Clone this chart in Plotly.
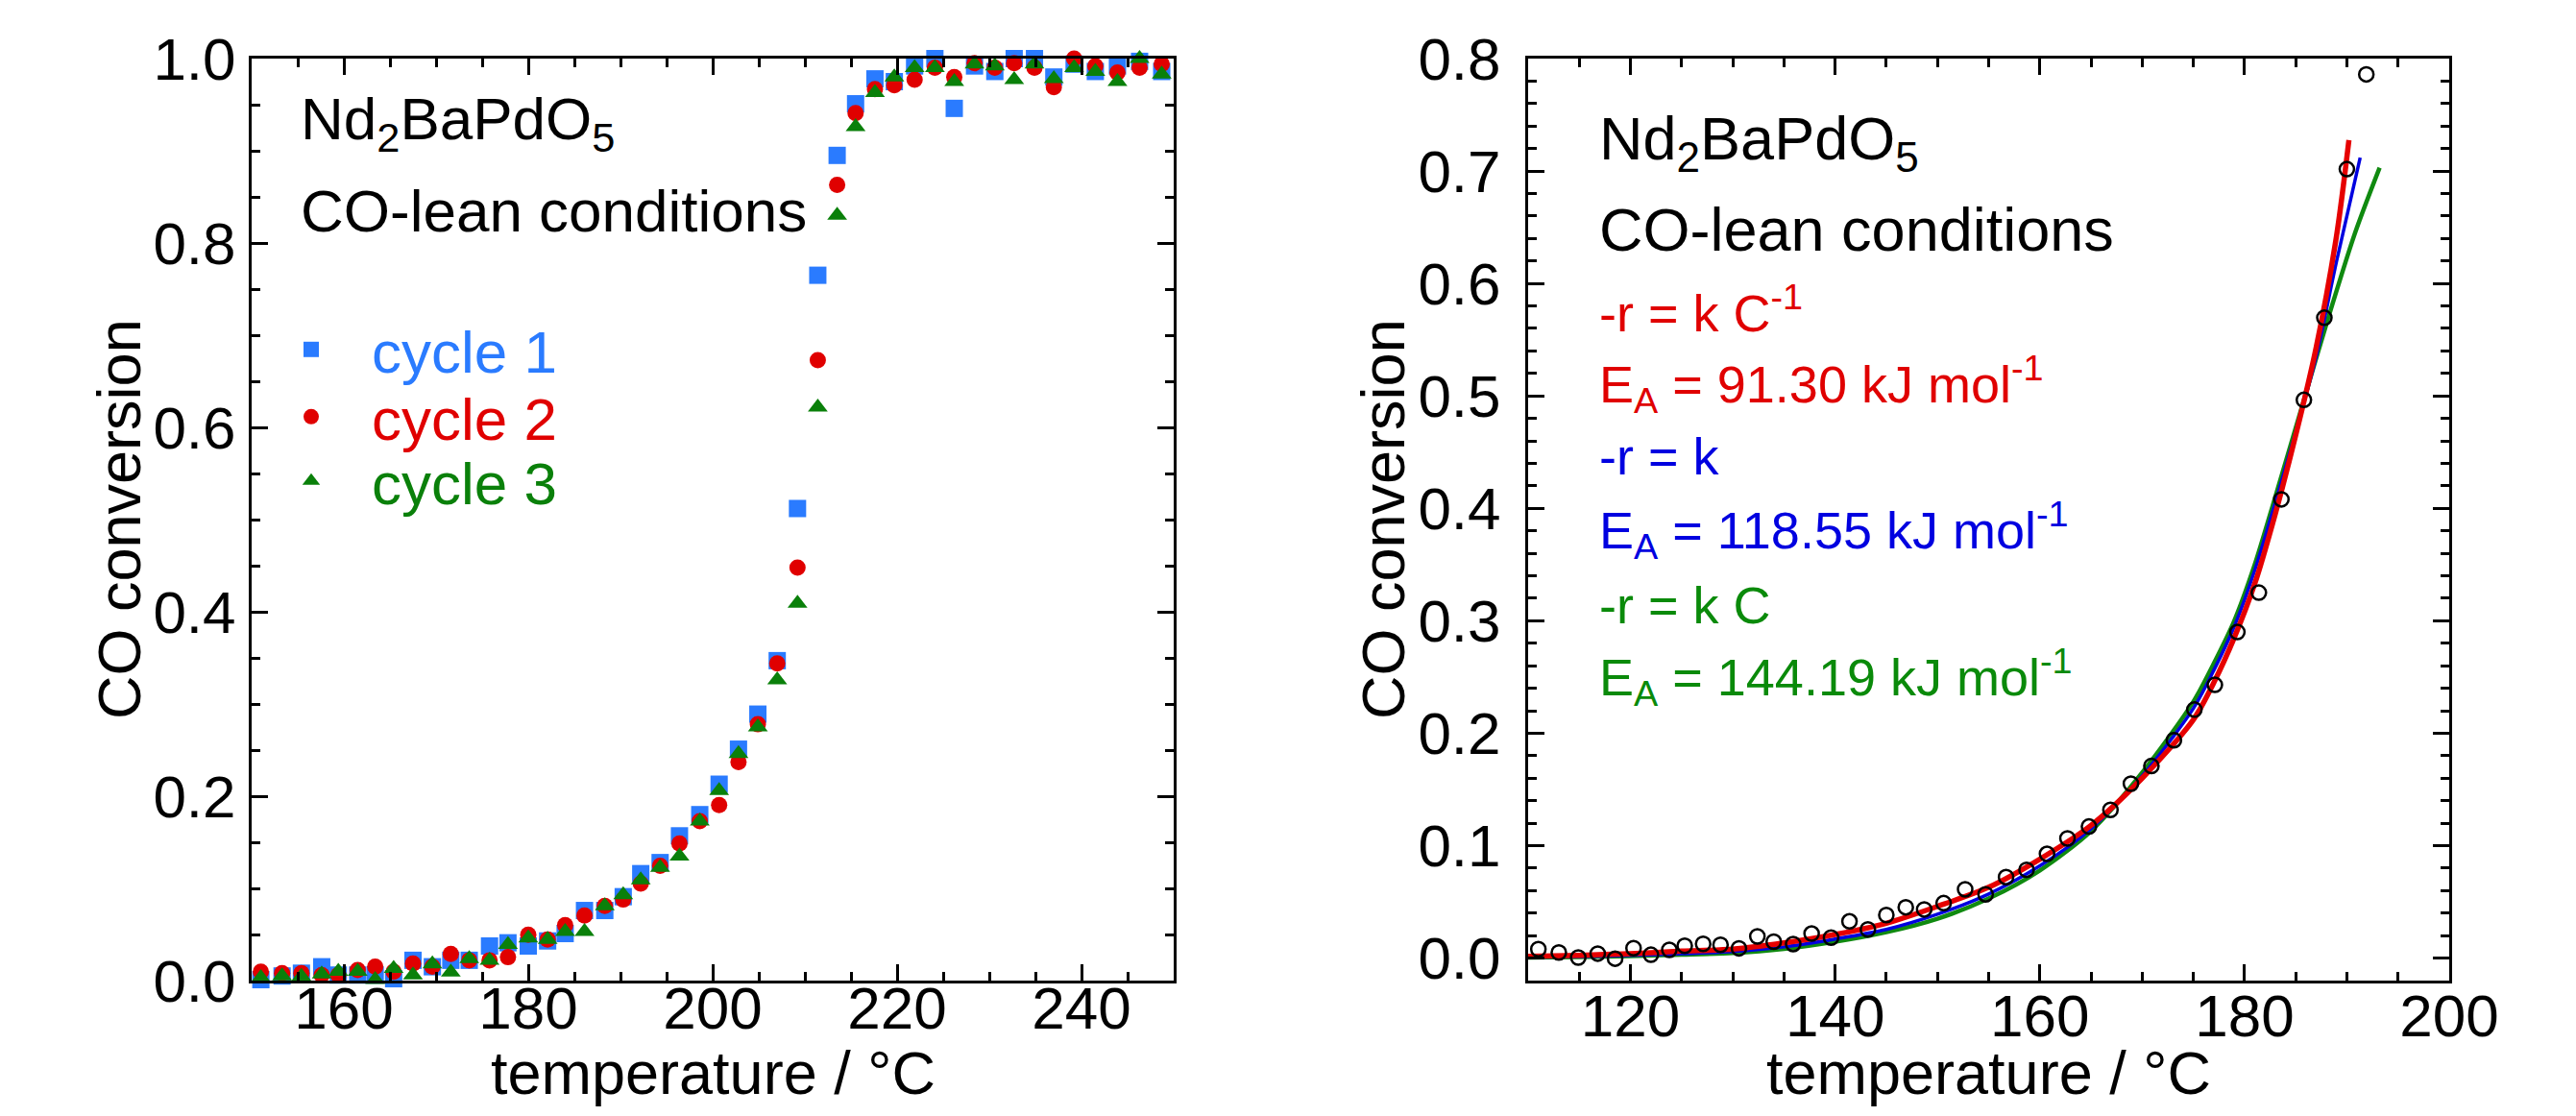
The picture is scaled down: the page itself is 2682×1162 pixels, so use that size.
import plotly.graph_objects as go

# ---------------- data: left panel (three light-off cycles) ----------------
temp_cycles = [151.0, 153.3, 155.4, 157.6, 159.4, 161.5, 163.4, 165.4, 167.5, 169.6,
               171.6, 173.6, 175.8, 177.8, 180.0, 182.1, 184.0, 186.1, 188.3, 190.3,
               192.2, 194.3, 196.4, 198.6, 200.7, 202.8, 204.9, 207.0, 209.2, 211.4,
               213.5, 215.5, 217.6, 219.7, 221.9, 224.1, 226.2, 228.4, 230.6, 232.7,
               234.9, 237.0, 239.2, 241.5, 243.9, 246.3, 248.7]
cycle1 = [0.001, 0.005, 0.008, 0.015, 0.006, 0.006, 0.006, 0.002, 0.022, 0.015,
          0.022, 0.022, 0.0375, 0.041, 0.0375, 0.043, 0.051, 0.076, 0.076, 0.091,
          0.116, 0.128, 0.157, 0.180, 0.213, 0.251, 0.289, 0.347, 0.512, 0.765,
          0.895, 0.951, 0.978, 0.975, 0.992, 1.000, 0.946, 0.992, 0.986, 1.000,
          1.000, 0.980, 0.994, 0.986, 0.992, 0.997, 0.986]
cycle2 = [0.0097, 0.008, 0.008, 0.006, 0.006, 0.0115, 0.015, 0.0097, 0.0184, 0.015,
          0.0289, 0.022, 0.022, 0.0254, 0.0497, 0.0445, 0.0601, 0.0705, 0.0809, 0.0879,
          0.1053, 0.1244, 0.1487, 0.173, 0.1904, 0.237, 0.278, 0.344, 0.448, 0.673,
          0.863, 0.941, 0.967, 0.971, 0.977, 0.990, 0.980, 0.995, 0.990, 0.995,
          0.990, 0.969, 1.000, 0.992, 0.985, 0.990, 0.994]
cycle3 = [0.003, 0.005, 0.0045, 0.007, 0.010, 0.010, 0.001, 0.013, 0.006, 0.018,
          0.009, 0.0236, 0.022, 0.039, 0.046, 0.0445, 0.0532, 0.0532, 0.081, 0.093,
          0.109, 0.1226, 0.135, 0.173, 0.206, 0.246, 0.275, 0.326, 0.409, 0.622,
          0.830, 0.926, 0.963, 0.980, 0.990, 0.990, 0.975, 0.994, 0.992, 0.977,
          0.994, 0.978, 0.990, 0.986, 0.975, 1.000, 0.983]

# ---------------- data: right panel (measured points + kinetic fits) ----------------
temp_meas = [111.0, 113.0, 114.9, 116.8, 118.5, 120.3, 122.0, 123.8, 125.3, 127.1,
             128.8, 130.6, 132.4, 134.0, 135.9, 137.7, 139.6, 141.4, 143.2, 145.0,
             146.9, 148.7, 150.6, 152.7, 154.7, 156.7, 158.7, 160.7, 162.7, 164.8,
             166.9, 168.9, 170.9, 173.1, 175.1, 177.1, 179.3, 181.4, 183.6, 185.8,
             187.8, 190.0, 191.9]
conv_meas = [0.008, 0.005, 0.0005, 0.004, -0.0005, 0.0088, 0.003, 0.0073, 0.011, 0.0127,
             0.0118, 0.0087, 0.0193, 0.0146, 0.0125, 0.0218, 0.0182, 0.0327, 0.0255, 0.0383,
             0.0452, 0.0433, 0.0489, 0.0612, 0.0567, 0.072, 0.0785, 0.0927, 0.1064, 0.117,
             0.1318, 0.1551, 0.1708, 0.1938, 0.221, 0.243, 0.290, 0.325, 0.408, 0.4965,
             0.5695, 0.7017, 0.786]

temp_fit_red = [110, 115, 120, 125, 130, 135, 140, 145, 150, 155, 160, 165, 170,
                175, 177, 179, 181, 183, 185, 187, 189, 190.2]
conv_fit_red = [0.0015, 0.0025, 0.004, 0.0062, 0.008, 0.0135, 0.021, 0.031, 0.046, 0.063,
                0.088, 0.118, 0.160, 0.212, 0.245, 0.285, 0.333, 0.395, 0.465, 0.543,
                0.643, 0.7275]
temp_fit_blue = [110, 115, 120, 125, 130, 135, 140, 145, 150, 155, 160, 165, 170,
                 175, 177, 179, 181, 183, 185, 187, 189, 191.3]
conv_fit_blue = [0.0008, 0.0014, 0.0024, 0.0039, 0.0058, 0.0100, 0.017, 0.0255, 0.039, 0.057,
                 0.082, 0.115, 0.162, 0.222, 0.256, 0.295, 0.345, 0.405, 0.468, 0.535,
                 0.62, 0.712]
temp_fit_green = [110, 115, 120, 125, 130, 135, 140, 145, 150, 155, 160, 165, 170,
                  175, 177, 179, 181, 183, 185.6, 188.1, 190.8, 193.2]
conv_fit_green = [0.0005, 0.001, 0.0018, 0.003, 0.0045, 0.0082, 0.0145, 0.023, 0.035, 0.053,
                  0.078, 0.113, 0.165, 0.228, 0.262, 0.300, 0.350, 0.41, 0.49, 0.567,
                  0.645, 0.703]

# ---------------- styling ----------------
BODY = 8                       # default page margin around the figure
W, H = 2682 - 2 * BODY, 1162 - 2 * BODY
FONT = "Liberation Sans, Arial, Helvetica, sans-serif"
C_BLUE1 = "#2a7bff"
C_RED = "#e00000"
C_GREEN = "#0a800a"
C_BLUE = "#0000e0"
C_GREEN_T = "#0a8a0a"


def fx(p):          # page pixel -> paper x
    return (p - BODY) / W


def fy(p):          # page pixel -> paper y
    return 1 - (p - BODY) / H


fig = go.Figure()

# left panel
fig.add_trace(go.Scatter(x=temp_cycles, y=cycle1, mode="markers", name="cycle 1",
                         marker=dict(symbol="square", size=18, color=C_BLUE1),
                         xaxis="x", yaxis="y", cliponaxis=False, legend="legend"))
fig.add_trace(go.Scatter(x=temp_cycles, y=cycle2, mode="markers", name="cycle 2",
                         marker=dict(symbol="circle", size=17, color=C_RED),
                         xaxis="x", yaxis="y", cliponaxis=False, legend="legend2"))
fig.add_trace(go.Scatter(x=temp_cycles, y=cycle3, mode="markers", name="cycle 3",
                         marker=dict(symbol="triangle-up", size=18, color=C_GREEN),
                         xaxis="x", yaxis="y", cliponaxis=False, legend="legend3"))

# right panel
fig.add_trace(go.Scatter(x=temp_fit_green, y=conv_fit_green, mode="lines",
                         line=dict(color="#108a10", width=4.5, shape="spline", smoothing=0.8),
                         xaxis="x2", yaxis="y2", showlegend=False))
fig.add_trace(go.Scatter(x=temp_fit_blue, y=conv_fit_blue, mode="lines",
                         line=dict(color=C_BLUE, width=3.5, shape="spline", smoothing=0.8),
                         xaxis="x2", yaxis="y2", showlegend=False))
fig.add_trace(go.Scatter(x=temp_fit_red, y=conv_fit_red, mode="lines",
                         line=dict(color="#e60000", width=5.5, shape="spline", smoothing=0.8),
                         xaxis="x2", yaxis="y2", showlegend=False))
fig.add_trace(go.Scatter(x=temp_meas, y=conv_meas, mode="markers",
                         marker=dict(symbol="circle-open", size=15, color="black",
                                     line=dict(width=2.5, color="black")),
                         xaxis="x2", yaxis="y2", cliponaxis=False, showlegend=False))

axis_common = dict(showline=True, linecolor="black", linewidth=3, mirror="allticks",
                   ticks="inside", ticklen=17, tickwidth=3, tickcolor="black",
                   showgrid=False, zeroline=False, automargin=False,
                   tickfont=dict(family=FONT, size=62, color="black"))


def minor(step):
    return dict(ticks="inside", ticklen=9, tickwidth=3, tickcolor="black",
                dtick=step, tick0=0, showgrid=False)


ytop, ybot = 61, 1021
fig.update_layout(
    template="none",
    width=W, height=H,
    margin=dict(l=0, r=0, t=0, b=0, pad=0, autoexpand=False),
    paper_bgcolor="white", plot_bgcolor="white",
    font=dict(family=FONT, color="black"),
    xaxis=dict(domain=[fx(262), fx(1222)], anchor="y", range=[150, 250], dtick=20, tick0=0,
               ticklabelstandoff=-27, minor=minor(5), **axis_common),
    yaxis=dict(domain=[fy(ybot), fy(ytop)], anchor="x", range=[0, 1], dtick=0.2, tick0=0,
               tickformat=".1f", ticklabelstandoff=1, minor=minor(0.05), **axis_common),
    xaxis2=dict(domain=[fx(1591), fx(2550)], anchor="y2", range=[110, 200], dtick=20, tick0=0,
                ticklabelstandoff=-19, minor=minor(5), **axis_common),
    yaxis2=dict(domain=[fy(ybot), fy(ytop)], anchor="x2", range=[-0.02, 0.8], dtick=0.1, tick0=0,
                tickformat=".1f", ticklabelstandoff=13, minor=minor(0.02), **axis_common),
)

leg_common = dict(xanchor="left", yanchor="middle", bgcolor="rgba(0,0,0,0)",
                  borderwidth=0, itemwidth=116, itemclick=False)
fig.update_layout(
    legend=dict(x=fx(261), y=fy(364), font=dict(family=FONT, size=62, color=C_BLUE1), **leg_common),
    legend2=dict(x=fx(261), y=fy(434), font=dict(family=FONT, size=62, color=C_RED), **leg_common),
    legend3=dict(x=fx(261), y=fy(501), font=dict(family=FONT, size=62, color=C_GREEN), **leg_common),
)


def label(text, x_left, baseline, size, color="black"):
    fig.add_annotation(text=text, xref="paper", yref="paper", x=fx(x_left),
                       y=fy(baseline - 0.41 * size), xanchor="left", yanchor="middle",
                       showarrow=False, font=dict(family=FONT, size=size, color=color))


# left panel texts
label("Nd<sub>2</sub>BaPdO<sub>5</sub>", 311, 153, 62)
label("CO-lean conditions", 311, 245, 62)

# right panel texts
label("Nd<sub>2</sub>BaPdO<sub>5</sub>", 1663, 174, 63)
label("CO-lean conditions", 1663, 265, 63)
label("-r = k C<sup>-1</sup>", 1663, 344, 54, C_RED)
label("E<sub>A</sub> = 91.30 kJ mol<sup>-1</sup>", 1663, 422, 54, C_RED)
label("-r = k", 1663, 497, 54, C_BLUE)
label("E<sub>A</sub> = 118.55 kJ mol<sup>-1</sup>", 1663, 574, 54, C_BLUE)
label("-r = k C", 1663, 652, 54, C_GREEN_T)
label("E<sub>A</sub> = 144.19 kJ mol<sup>-1</sup>", 1663, 727, 54, C_GREEN_T)

# axis titles (box centres in page pixels)
for xc in (742, 2070):
    fig.add_annotation(text="temperature / °C", xref="paper", yref="paper",
                       x=fx(xc), y=fy(1117), xanchor="center", yanchor="middle",
                       showarrow=False, font=dict(family=FONT, size=63, color="black"))
for xcen in (124, 1440):
    fig.add_annotation(text="CO conversion", xref="paper", yref="paper", textangle=-90,
                       x=fx(xcen), y=fy(541), xanchor="center", yanchor="middle",
                       showarrow=False, font=dict(family=FONT, size=63, color="black"))

fig.write_html("out.html")
